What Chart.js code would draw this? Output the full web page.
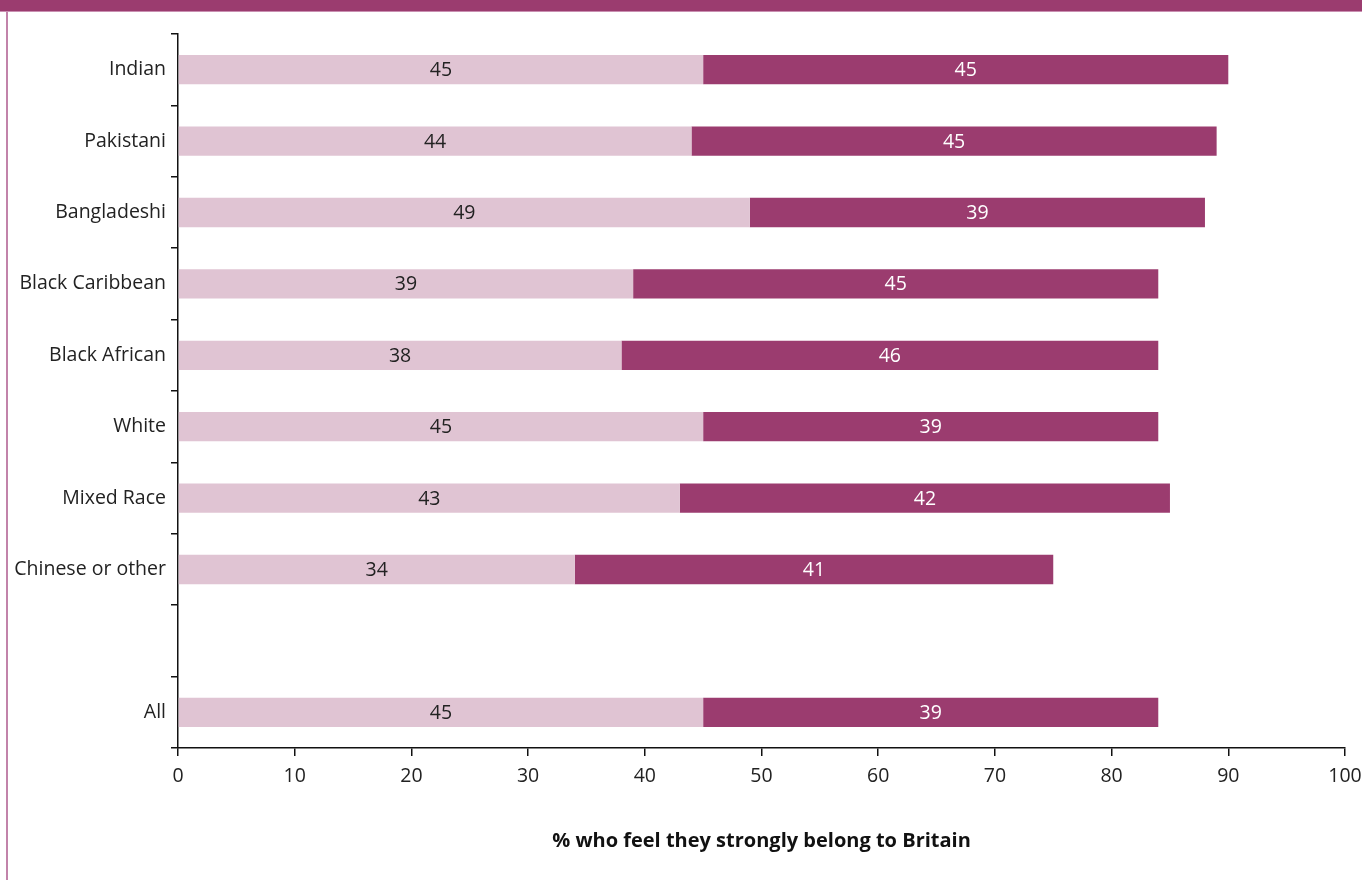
<!DOCTYPE html>
<html lang="en">
<head>
<meta charset="UTF-8">
<title>Belonging to Britain by ethnic group</title>
<script src="https://cdn.jsdelivr.net/npm/chart.js@4"></script>
<style>
  html, body { margin: 0; padding: 0; background: #fff; }
  #wrap { position: relative; width: 1362px; height: 880px; overflow: hidden; }
  #band { position: absolute; left: 0; top: 0; width: 1362px; height: 11px; background: #9b3c6f; border-bottom: 1px solid #c98fb1; }
  #edge { position: absolute; left: 6px; top: 12px; width: 2px; height: 868px; background: #c283aa; }
  #chart { position: absolute; left: 0; top: 0; }
</style>
</head>
<body>
<div id="wrap">
  <div id="band"></div>
  <div id="edge"></div>
  <canvas id="chart" width="1362" height="880"></canvas>
</div>
<script>
const groups = ['Indian', 'Pakistani', 'Bangladeshi', 'Black Caribbean', 'Black African', 'White', 'Mixed Race', 'Chinese or other', '', 'All'];
const veryStrongly = [45, 44, 49, 39, 38, 45, 43, 34, null, 45];
const fairlyStrongly = [45, 45, 39, 45, 46, 39, 42, 41, null, 39];
const xTicks = [0, 10, 20, 30, 40, 50, 60, 70, 80, 90, 100];

const FONT = '"Open Sans", "Noto Sans", sans-serif';
const LABEL_SIZE = 19.5;

// write each segment's value in the middle of its bar
const barValues = {
  id: 'barValues',
  afterDatasetsDraw(chart) {
    const ctx = chart.ctx;
    ctx.save();
    ctx.font = LABEL_SIZE + 'px ' + FONT;
    ctx.textAlign = 'center';
    ctx.textBaseline = 'middle';
    chart.data.datasets.forEach((ds, i) => {
      const meta = chart.getDatasetMeta(i);
      meta.data.forEach((bar, j) => {
        const v = ds.data[j];
        if (v == null) return;
        const mid = (bar.x + bar.base) / 2;
        ctx.fillStyle = ds.labelColor;
        ctx.fillText(String(v), mid, bar.y + 1);
      });
    });
    ctx.restore();
  }
};

new Chart(document.getElementById('chart'), {
  type: 'bar',
  data: {
    labels: groups,
    datasets: [
      { label: 'Very strongly', data: veryStrongly, backgroundColor: '#e0c4d3', labelColor: '#222', barPercentage: 0.41, categoryPercentage: 1 },
      { label: 'Fairly strongly', data: fairlyStrongly, backgroundColor: '#9b3c6f', labelColor: '#fff', barPercentage: 0.41, categoryPercentage: 1 }
    ]
  },
  options: {
    indexAxis: 'y',
    responsive: false,
    animation: false,
    layout: { padding: { top: 34, right: 17, left: 0, bottom: 0 } },
    plugins: { legend: { display: false }, tooltip: { enabled: false } },
    scales: {
      x: {
        stacked: true,
        min: 0, max: 100,
        afterBuildTicks: s => { s.ticks = xTicks.map(v => ({ value: v })); },
        afterFit: s => { s.height = 132; s.paddingLeft = 0; s.paddingRight = 0; },
        grid: { drawOnChartArea: false, tickLength: 8, color: '#111', lineWidth: 1.5 },
        border: { display: true, color: '#111', width: 1.5 },
        ticks: { color: '#222', font: { family: FONT, size: LABEL_SIZE }, padding: 9, maxRotation: 0 },
        title: { display: true, text: '% who feel they strongly belong to Britain', color: '#111', font: { family: FONT, size: 20, weight: 'bold' }, padding: { top: 8, bottom: 27 } }
      },
      y: {
        stacked: true,
        offset: true,
        afterFit: s => { s.width = 178; },
        grid: { offset: true, drawOnChartArea: false, tickLength: 7, color: '#111', lineWidth: 1.5 },
        border: { display: true, color: '#111', width: 1.5 },
        ticks: { color: '#222', font: { family: FONT, size: LABEL_SIZE }, padding: 5 }
      }
    }
  },
  plugins: [barValues]
});
</script>
</body>
</html>
